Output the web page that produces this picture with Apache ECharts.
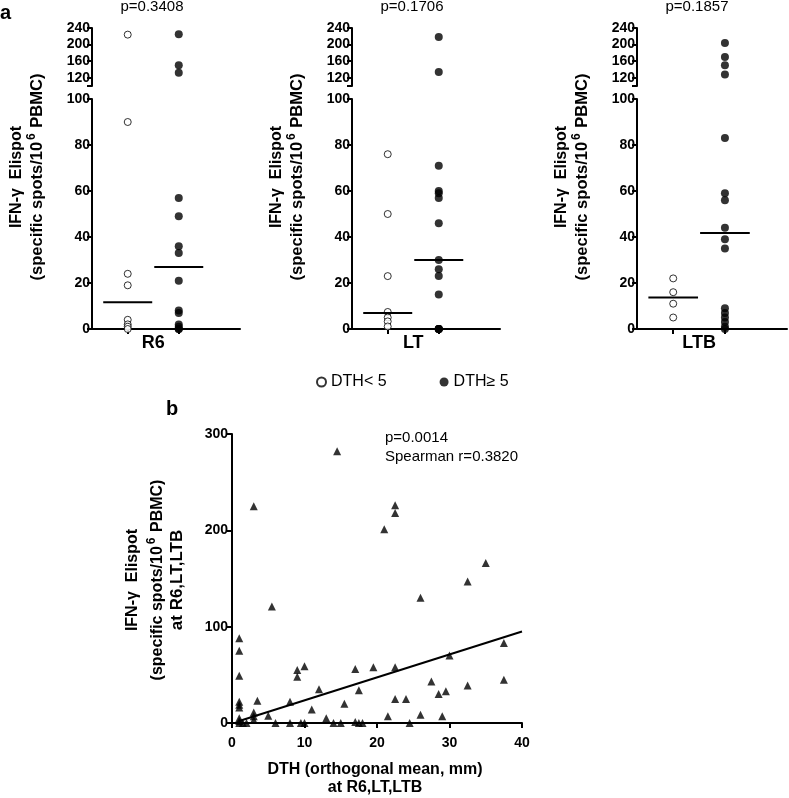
<!DOCTYPE html>
<html><head><meta charset="utf-8">
<script src="https://cdn.jsdelivr.net/npm/echarts@6/dist/echarts.min.js"></script>
<style>html,body{margin:0;padding:0;background:#fff}#c{width:789px;height:798px}</style>
</head><body><div id="c"></div>
<script>
// ---------- Panel a data ----------
const panelNames = ['R6', 'LT', 'LTB'];
const pValuesA = ['p=0.3408', 'p=0.1706', 'p=0.1857'];
const groupNames = ['DTH< 5', 'DTH≥ 5'];
const r6Low = [224, 90, 24, 19, 4, 2, 1, 0];
const r6High = [225, 150, 132, 57, 49, 36, 33, 21, 8, 7, 2, 1, 0, 0];
const ltLow = [76, 50, 23, 7.4, 5, 3.3, 1.1];
const ltHigh = [218, 134, 71, 60, 59, 57, 46, 30, 26, 23, 15, 0, 0, 0, 0];
const ltbLow = [22, 16, 11, 5];
const ltbHigh = [204, 170, 150, 128, 83, 59, 56, 44, 39, 35, 9, 7, 5, 3, 1, 0];
const r6Medians = [11.6, 27];
const ltMedians = [7, 30];
const ltbMedians = [13.7, 41.7];
const upperTicks = [120, 160, 200, 240];

// ---------- Panel b data ----------
const dthX = [3, 14.5, 21, 22.5, 22.5, 5.5, 26, 32.5, 35, 37.5, 30, 37.5, 27.5, 32.5, 28.5, 29.5, 24, 22.5, 26, 29, 24.5, 1, 1, 1, 1, 1, 1, 1, 1, 1, 9, 9, 10, 17, 19.5, 22.5, 12, 17.5, 3.5, 8, 15.5, 11, 3, 3, 3, 5, 13, 21.5, 2, 6, 8, 9.5, 10, 14, 15, 17, 17.5, 18, 1.5];
const elispotY = [225, 282, 201, 226, 218, 121, 130, 147, 166, 83, 70, 45, 43, 39, 30, 33, 25, 25, 8.5, 7, 0, 88, 75, 49, 22, 19, 16, 5, 2, 0, 55, 48, 59, 56, 58, 58, 35, 34, 23, 22, 20, 14, 11, 7, 3, 7.5, 5, 7, 0, 0, 0, 0, 0, 0, 0, 1, 0, 0, 0];
const regressionX = [1, 40];
const regressionY = [2, 95];
const statsB = ['p=0.0014', 'Spearman r=0.3820'];

// ---------- build ----------
const FONT = '"Liberation Sans", Arial, Helvetica, sans-serif';
const BLACK = '#000';
const lineSt = { color: BLACK, width: 2 };
const tickFont = { color: BLACK, fontSize: 14, fontWeight: 'bold', fontFamily: FONT };
const lowData = [r6Low, ltLow, ltbLow];
const highData = [r6High, ltHigh, ltbHigh];
const medianData = [r6Medians, ltMedians, ltbMedians];
const panelLeft = [92, 352, 637];
const panelWidth = [148, 148, 150];
const UP_TOP = 28, UP_H = 58, LO_TOP = 99, LO_H = 230;
const HALF = 0.48;

const grids = [], xAxes = [], yAxes = [], series = [], graphics = [];

function supTitle(x, y, size) {
  return { type: 'text', x: x, y: y, rotation: Math.PI / 2,
    style: { text: '{m|(specific spots/10}{s|6}{m| PBMC)}', fill: BLACK, align: 'center', verticalAlign: 'middle',
      rich: {
        m: { fontSize: size, fontWeight: 'bold', fontFamily: FONT, lineHeight: 20, verticalAlign: 'bottom' },
        s: { fontSize: 12, fontWeight: 'bold', fontFamily: FONT, lineHeight: 20, verticalAlign: 'top', padding: [0, 1, 0, 2] }
      } } };
}

for (let p = 0; p < 3; p++) {
  const gu = 2 * p, gl = 2 * p + 1;
  grids.push({ left: panelLeft[p], width: panelWidth[p], top: UP_TOP, height: UP_H });
  grids.push({ left: panelLeft[p], width: panelWidth[p], top: LO_TOP, height: LO_H });
  xAxes.push({ gridIndex: gu, type: 'value', min: -0.7, max: 2.2, show: false });
  xAxes.push({
    gridIndex: gl, type: 'value', min: -0.7, max: 2.2,
    axisLine: { onZero: false, lineStyle: lineSt },
    axisTick: { customValues: [0, 1], length: 5, lineStyle: lineSt },
    axisLabel: { customValues: [0.5], formatter: () => panelNames[p], color: BLACK, fontSize: 18, fontWeight: 'bold', fontFamily: FONT, margin: 5 },
    splitLine: { show: false }
  });
  yAxes.push({
    gridIndex: gu, type: 'value', min: 100, max: 240,
    axisLine: { onZero: false, lineStyle: lineSt },
    axisTick: { customValues: [100].concat(upperTicks), length: 5, lineStyle: lineSt },
    axisLabel: Object.assign({ customValues: upperTicks, margin: 2 }, tickFont),
    splitLine: { show: false }
  });
  yAxes.push({
    gridIndex: gl, type: 'value', min: 0, max: 100, interval: 20,
    axisLine: { onZero: false, lineStyle: lineSt },
    axisTick: { length: 5, lineStyle: lineSt },
    axisLabel: Object.assign({ margin: 2 }, tickFont),
    splitLine: { show: false }
  });
  for (let g = 0; g < 2; g++) {
    const vals = g === 0 ? lowData[p] : highData[p];
    const style = g === 0
      ? { color: '#fff', borderColor: BLACK, borderWidth: 1 }
      : { color: BLACK, borderColor: BLACK, borderWidth: 0 };
    const size = g === 0 ? 7 : 8;
    series.push({ type: 'scatter', name: groupNames[g], xAxisIndex: gu, yAxisIndex: gu, symbol: 'circle', symbolSize: size, itemStyle: style,
      data: vals.filter(v => v >= 100).map(v => [g, v]), z: 3 });
    series.push({ type: 'scatter', name: groupNames[g], xAxisIndex: gl, yAxisIndex: gl, symbol: 'circle', symbolSize: size, itemStyle: style,
      data: vals.filter(v => v < 100).map(v => [g, v]), z: 3 });
    series.push({ type: 'line', xAxisIndex: gl, yAxisIndex: gl, symbol: 'none', silent: true, lineStyle: { color: BLACK, width: 2 },
      data: [[g - HALF, medianData[p][g]], [g + HALF, medianData[p][g]]], z: 4 });
  }
  const ax = panelLeft[p];
  graphics.push({ type: 'text', x: ax + 60, y: 7, style: { text: pValuesA[p], fill: BLACK, font: '15px ' + FONT, align: 'center', verticalAlign: 'middle' } });
  graphics.push({ type: 'text', x: ax - 75, y: 177, rotation: Math.PI / 2,
    style: { text: 'IFN-γ  Elispot', fill: BLACK, font: 'bold 16px ' + FONT, align: 'center', verticalAlign: 'middle' } });
  graphics.push(supTitle(ax - 56, 177, 16.5));
}

// Panel b
const gb = 6;
grids.push({ left: 232, top: 434, width: 290, height: 289 });
xAxes.push({
  gridIndex: gb, type: 'value', min: 0, max: 40, interval: 10,
  axisLine: { onZero: false, lineStyle: lineSt },
  axisTick: { length: 5, lineStyle: lineSt },
  axisLabel: Object.assign({ margin: 13 }, tickFont),
  splitLine: { show: false }
});
yAxes.push({
  gridIndex: gb, type: 'value', min: 0, max: 300, interval: 100,
  axisLine: { onZero: false, lineStyle: lineSt },
  axisTick: { length: 5, lineStyle: lineSt },
  axisLabel: Object.assign({ margin: 4 }, tickFont),
  splitLine: { show: false }
});
series.push({ type: 'scatter', xAxisIndex: gb, yAxisIndex: gb, symbol: 'triangle', symbolSize: 8, itemStyle: { color: BLACK },
  data: dthX.map((x, i) => [x, elispotY[i]]), z: 3 });
series.push({ type: 'line', xAxisIndex: gb, yAxisIndex: gb, symbol: 'none', silent: true, lineStyle: { color: BLACK, width: 2 },
  data: regressionX.map((x, i) => [x, regressionY[i]]), z: 4 });

graphics.push({ type: 'text', x: 0, y: 3, style: { text: 'a', fill: BLACK, font: 'bold 20px ' + FONT } });
graphics.push({ type: 'text', x: 166, y: 399, style: { text: 'b', fill: BLACK, font: 'bold 20px ' + FONT } });
graphics.push({ type: 'text', x: 385, y: 438, style: { text: statsB[0], fill: BLACK, font: '15px ' + FONT, verticalAlign: 'middle' } });
graphics.push({ type: 'text', x: 385, y: 457, style: { text: statsB[1], fill: BLACK, font: '15px ' + FONT, verticalAlign: 'middle' } });
graphics.push({ type: 'text', x: 133, y: 580, rotation: Math.PI / 2,
  style: { text: 'IFN-γ  Elispot', fill: BLACK, font: 'bold 16px ' + FONT, align: 'center', verticalAlign: 'middle' } });
graphics.push(supTitle(156, 580, 16));
graphics.push({ type: 'text', x: 177, y: 580, rotation: Math.PI / 2,
  style: { text: 'at R6,LT,LTB', fill: BLACK, font: 'bold 17px ' + FONT, align: 'center', verticalAlign: 'middle' } });
graphics.push({ type: 'text', x: 375, y: 770, style: { text: 'DTH (orthogonal mean, mm)', fill: BLACK, font: 'bold 16px ' + FONT, align: 'center', verticalAlign: 'middle' } });
graphics.push({ type: 'text', x: 375, y: 788, style: { text: 'at R6,LT,LTB', fill: BLACK, font: 'bold 16px ' + FONT, align: 'center', verticalAlign: 'middle' } });

const chart = echarts.init(document.getElementById('c'));
chart.setOption({
  animation: false,
  backgroundColor: '#fff',
  legend: {
    data: [{ name: groupNames[0], icon: 'circle' }, { name: groupNames[1], icon: 'circle' }],
    left: 311, top: 369, itemWidth: 9, itemHeight: 9, itemGap: 53,
    textStyle: { color: BLACK, fontSize: 16, fontFamily: FONT }
  },
  grid: grids,
  xAxis: xAxes,
  yAxis: yAxes,
  series: series,
  graphic: graphics
});
</script>
</body></html>
